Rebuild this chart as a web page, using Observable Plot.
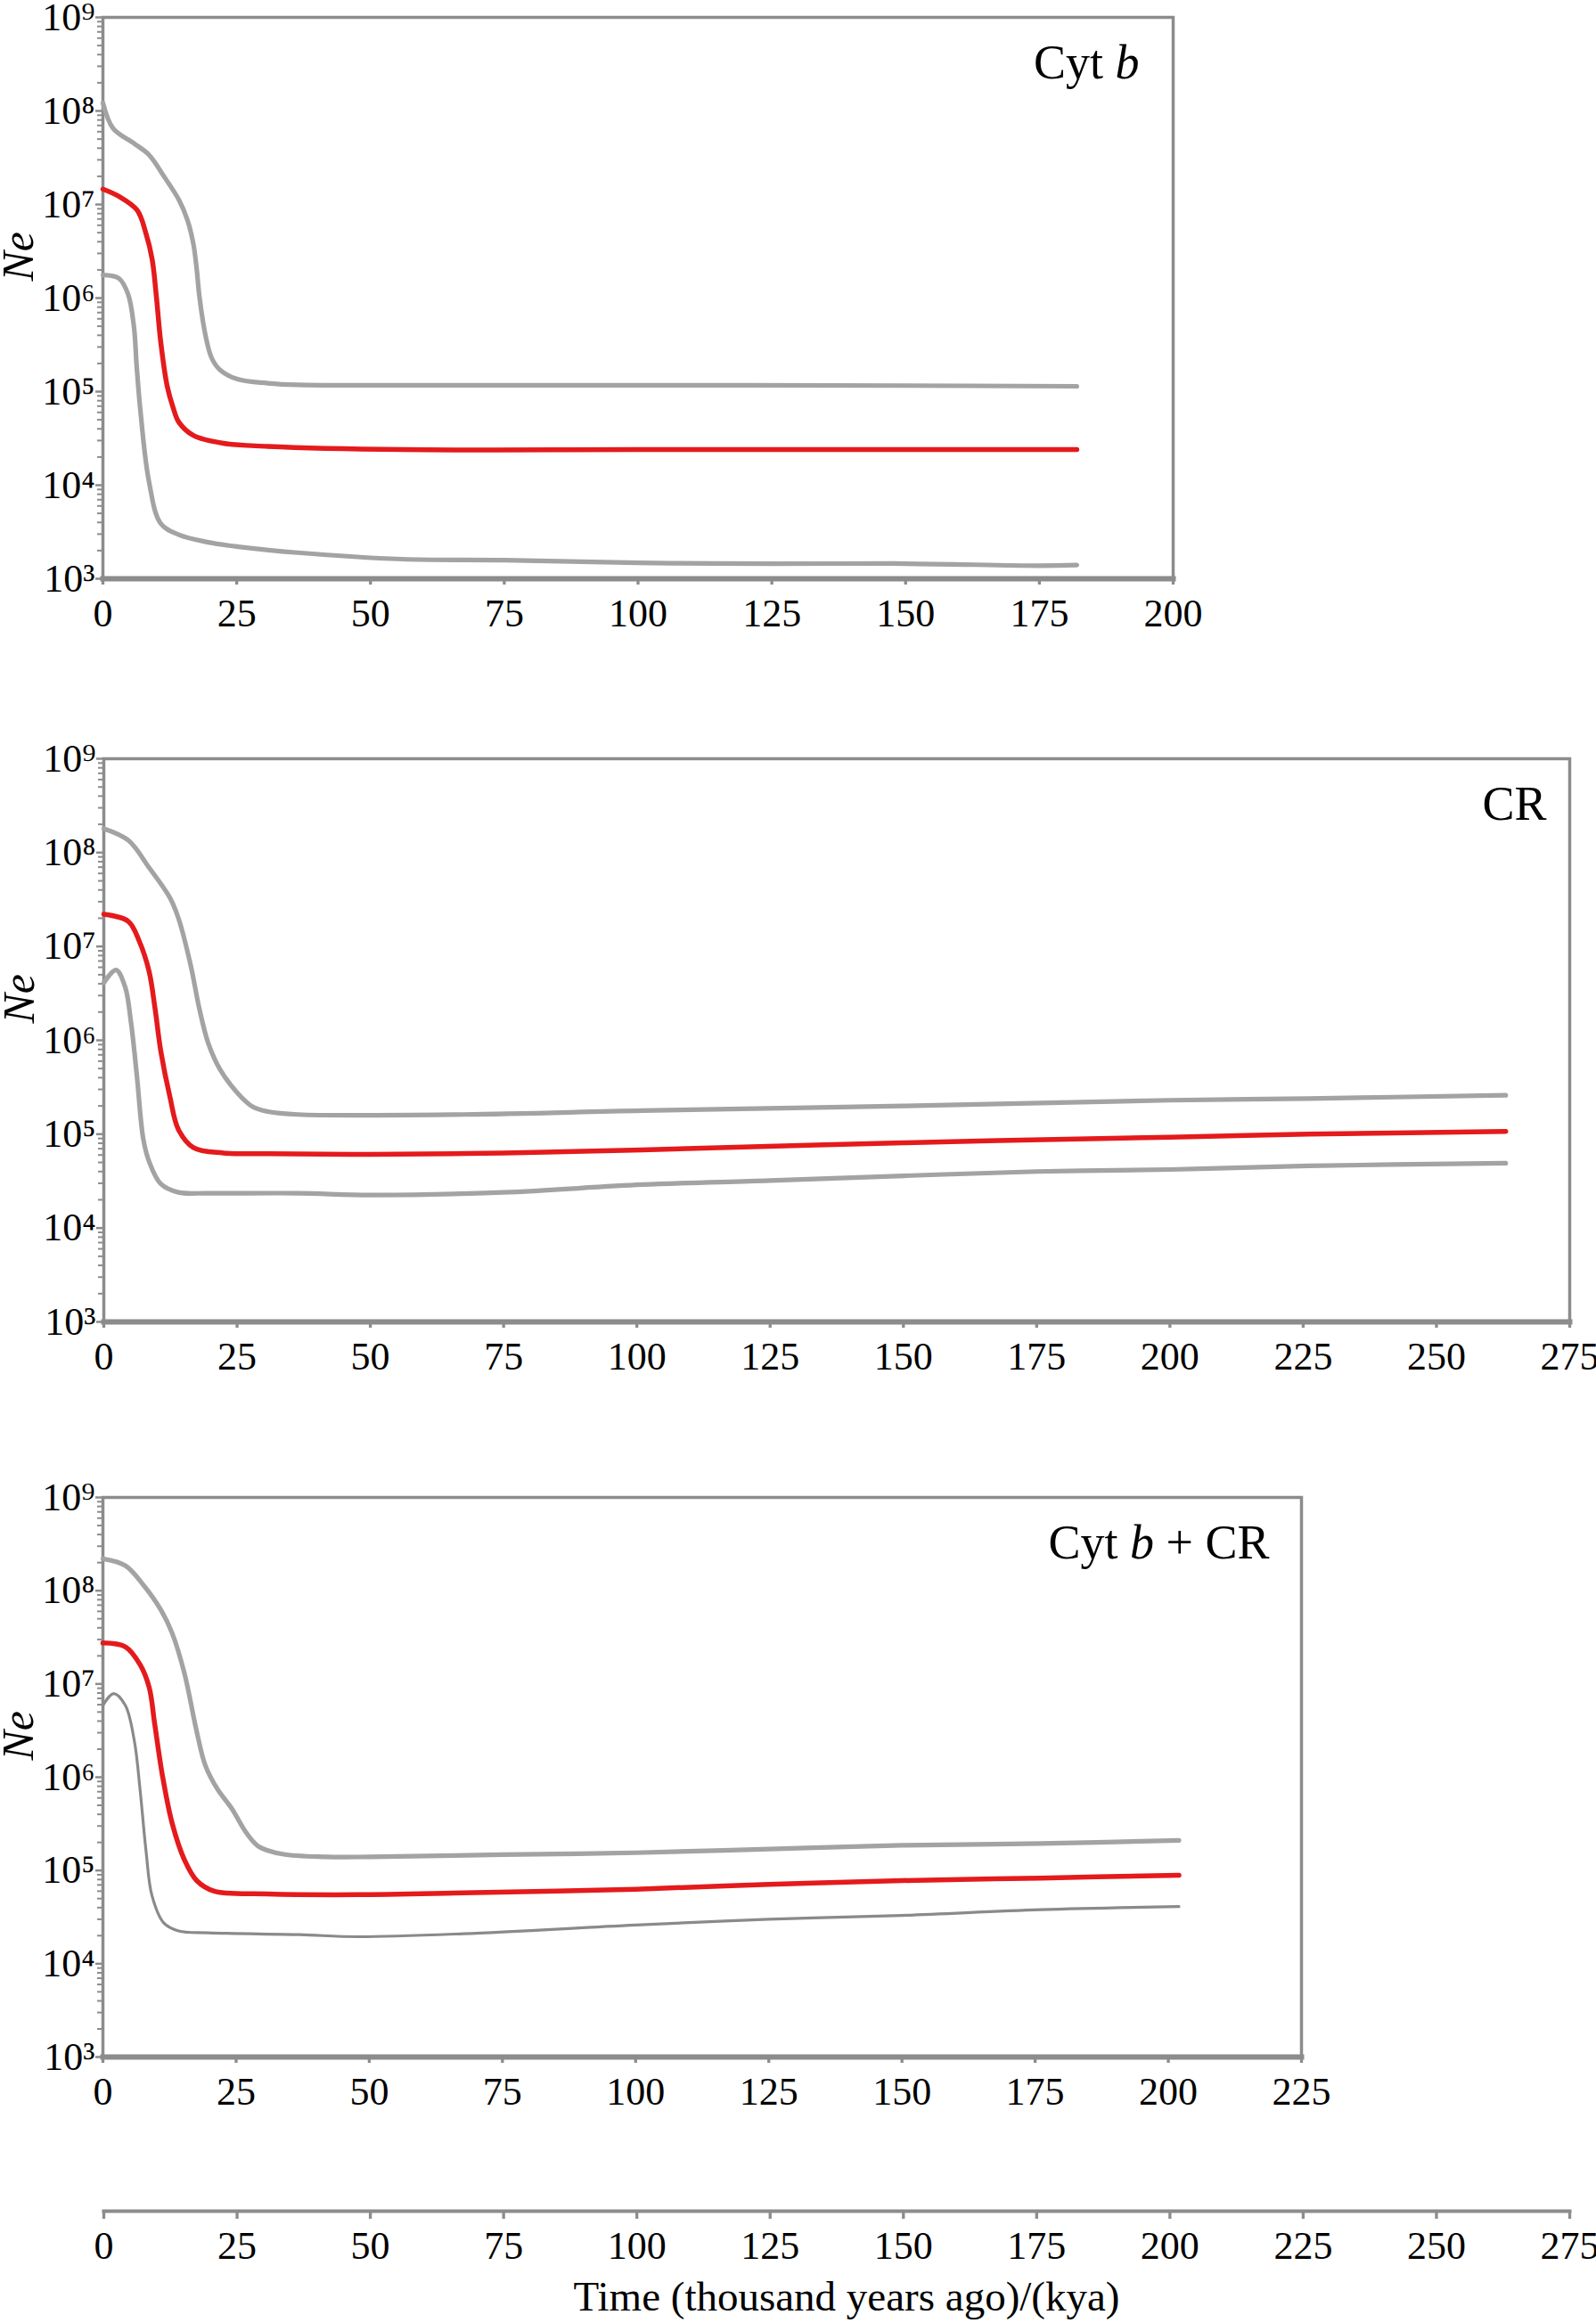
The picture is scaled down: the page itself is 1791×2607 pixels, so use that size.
<!DOCTYPE html>
<html>
<head>
<meta charset="utf-8">
<script src="https://cdn.jsdelivr.net/npm/d3@7"></script>
<script src="https://cdn.jsdelivr.net/npm/@observablehq/plot@0.6"></script>
<style>
  html, body { margin: 0; padding: 0; background: #fff; }
  #fig { position: relative; width: 1791px; height: 2607px; background: #fff; overflow: hidden; }
  #fig svg { position: absolute; left: 0; }
  #fig svg text { font-family: 'Liberation Serif', 'Times New Roman', serif; }
  #xtitle { position: absolute; top: 2554px; left: 950px; transform: translateX(-50%); white-space: nowrap;
            font-family: 'Liberation Serif', 'Times New Roman', serif; font-size: 47px; line-height: 47px; color: #000; }
</style>
</head>
<body>
<div id="fig"><div id="xtitle"></div></div>
<script>
// ---------- data (time in kya, Ne) ----------
// Panel 1: Cyt b
const cytbUpperT  = [0, 1.9, 5.8, 8.6, 11.4, 14.2, 15.8, 16.9, 17.5, 18.05, 19.2, 20.3, 21.9, 25.3, 30.8, 36.4, 56, 100, 150, 182];
const cytbUpperNe = [1.22e8, 6.5e7, 4.5e7, 3.4e7, 2.0e7, 1.12e7, 6.8e6, 3.8e6, 2.1e6, 1.02e6, 3.9e5, 2.3e5, 1.7e5, 1.35e5, 1.23e5, 1.18e5, 1.17e5, 1.17e5, 1.16e5, 1.14e5];
const cytbMedT    = [0, 3, 6.4, 8, 9.2, 10, 10.8, 12, 13.1, 14.2, 16.9, 22.5, 30.8, 56, 100, 150, 182];
const cytbMedNe   = [1.46e7, 1.22e7, 8.7e6, 5.0e6, 2.6e6, 1.02e6, 3.4e5, 1.15e5, 6.8e4, 4.7e4, 3.4e4, 2.8e4, 2.6e4, 2.4e4, 2.4e4, 2.4e4, 2.4e4];
const cytbLowerT  = [0, 3, 4.7, 5.8, 6.3, 7, 8.6, 10.8, 14.2, 19.7, 25.3, 36.4, 56, 75, 100, 125, 150, 175, 182];
const cytbLowerNe = [1.76e6, 1.62e6, 1.1e6, 4.9e5, 1.9e5, 6.3e4, 1.1e4, 3.9e3, 2.95e3, 2.45e3, 2.2e3, 1.9e3, 1.62e3, 1.58e3, 1.48e3, 1.45e3, 1.45e3, 1.38e3, 1.4e3];

// Panel 2: CR
const crUpperT  = [0, 4.6, 8.5, 12.4, 14, 16.3, 17.9, 19.6, 21.8, 25.2, 28, 30.8, 36.4, 67.6, 101, 150, 200, 226, 263];
const crUpperNe = [1.8e8, 1.35e8, 6.9e7, 3.3e7, 2.0e7, 6.3e6, 2.2e6, 9.3e5, 4.9e5, 2.7e5, 1.95e5, 1.74e5, 1.62e5, 1.62e5, 1.78e5, 2.0e5, 2.3e5, 2.4e5, 2.6e5];
const crMedT    = [0, 4.6, 6.7, 8.5, 9.6, 10.7, 12.4, 14, 16.8, 22.4, 30.8, 50, 75, 101, 150, 200, 226, 263];
const crMedNe   = [2.2e7, 1.85e7, 1.12e7, 5.4e6, 2.2e6, 7.6e5, 2.5e5, 1.12e5, 7.2e4, 6.3e4, 6.2e4, 6.1e4, 6.3e4, 6.8e4, 8.1e4, 9.3e4, 1.0e5, 1.07e5];
const crLowerT  = [0, 2.3, 4, 5.1, 6.2, 7.4, 8.5, 10.7, 14, 19.6, 36.4, 50, 75, 101, 125, 150, 175, 200, 226, 263];
const crLowerNe = [4.1e6, 5.6e6, 3.7e6, 1.55e6, 4.2e5, 8.9e4, 5.1e4, 2.95e4, 2.4e4, 2.35e4, 2.35e4, 2.25e4, 2.4e4, 2.9e4, 3.2e4, 3.6e4, 4.0e4, 4.2e4, 4.6e4, 4.9e4];

// Panel 3: Cyt b + CR
const bothUpperT  = [0, 4.2, 7.5, 10.9, 13, 15.3, 17.6, 19.2, 21.4, 24.2, 27, 29.3, 33.7, 42, 50, 75, 100, 125, 150, 176, 202];
const bothUpperNe = [2.2e8, 1.86e8, 1.17e8, 6.2e7, 3.5e7, 1.3e7, 3.1e6, 1.35e6, 7.6e5, 4.6e5, 2.5e5, 1.8e5, 1.5e5, 1.4e5, 1.4e5, 1.48e5, 1.55e5, 1.7e5, 1.86e5, 1.95e5, 2.1e5];
const bothMedT    = [0, 4.2, 7, 8.7, 9.7, 11.2, 13, 15.3, 17.6, 20.9, 30.9, 47.7, 67.7, 100, 125, 150, 176, 202];
const bothMedNe   = [2.75e7, 2.5e7, 1.6e7, 9.1e6, 3.8e6, 1.02e6, 3.2e5, 1.3e5, 7.8e4, 6.0e4, 5.6e4, 5.5e4, 5.75e4, 6.3e4, 7.1e4, 7.8e4, 8.3e4, 8.9e4];
const bothLowerT  = [0, 2, 4.2, 5.9, 7, 8.1, 9.2, 11.4, 14.2, 19.8, 36.9, 47.7, 67.7, 100, 125, 150, 176, 202];
const bothLowerNe = [5.9e6, 7.9e6, 5.9e6, 2.45e6, 7.1e5, 1.6e5, 5.4e4, 2.75e4, 2.25e4, 2.15e4, 2.05e4, 1.95e4, 2.1e4, 2.6e4, 3.0e4, 3.3e4, 3.8e4, 4.1e4];

// ticks and labels
const yMajorTicks = [1e3, 1e4, 1e5, 1e6, 1e7, 1e8, 1e9];
const yMinorMultipliers = [2, 3, 4, 5, 6, 7, 8, 9];
const xTicks = [0, 25, 50, 75, 100, 125, 150, 175, 200, 225, 250, 275];
const panelTitles = ["Cyt b", "CR", "Cyt b + CR"];
const xTitle = "Time (thousand years ago)/(kya)";
const yTitle = "Ne";

// ---------- helpers ----------
const FONT = "'Liberation Serif', 'Times New Roman', serif";
const AXIS = "#8c8c8c";
const RED = "#e41a1c";
const GRAY = "#a3a3a3";
const DARKGRAY = "#8a8a8a";
const SUP = {"0":"⁰","1":"¹","2":"²","3":"³","4":"⁴","5":"⁵","6":"⁶","7":"⁷","8":"⁸","9":"⁹"};
const fmtPow = d => "10" + SUP[String(Math.round(Math.log10(d)))];
const yMinorTicks = yMajorTicks.slice(0, -1).flatMap(p => yMinorMultipliers.map(m => m * p));
const rows = (T, N) => T.map((t, i) => ({t, ne: N[i]}));

function panel(cfg) {
  const xt = xTicks.filter(v => v <= cfg.xMax);
  const plot = Plot.plot({
    width: cfg.width, height: cfg.height,
    marginTop: cfg.mt, marginBottom: cfg.mb, marginLeft: cfg.ml, marginRight: cfg.mr,
    style: {fontFamily: FONT, fontSize: "44px", color: "#000", background: "transparent", overflow: "visible"},
    x: {domain: [0, cfg.xMax]},
    y: {type: "log", domain: [1e3, 1e9]},
    marks: [
      Plot.axisY(yMinorTicks, {tickSize: 6, stroke: AXIS, strokeWidth: 2, fill: "none", tickFormat: () => "", label: null}),
      Plot.axisY(yMajorTicks, {tickSize: 8, tickPadding: 1, stroke: AXIS, strokeWidth: 2.5, tickFormat: fmtPow, fontSize: 44, fontFamily: FONT, label: null}),
      Plot.axisX(xt, {tickSize: 7, tickPadding: 15, stroke: AXIS, strokeWidth: 3.3, fontSize: 44, fontFamily: FONT, label: null}),
      Plot.frame({stroke: AXIS, strokeWidth: 3.5}),
      Plot.frame({anchor: "bottom", stroke: AXIS, strokeWidth: 6}),
      ...cfg.series.map(s => Plot.line(rows(s.t, s.ne), {x: "t", y: "ne", stroke: s.color, strokeWidth: s.w, curve: "catmull-rom", strokeLinecap: "round", strokeLinejoin: "round"})),
      Plot.text([cfg.title], {frameAnchor: "top-right", textAnchor: "end", lineAnchor: "top", dx: cfg.tdx, dy: 30, fontSize: 54, fontFamily: FONT, fill: "#000"}),
      Plot.text([yTitle], {frameAnchor: "left", rotate: -90, dx: -95, dy: -19, fontSize: 50, fontFamily: FONT, fontStyle: "italic", fill: "#000"})
    ]
  });
  plot.style.top = cfg.top + "px";
  // italic "b" in the panel titles
  plot.querySelectorAll("text").forEach(t => {
    const s = t.textContent;
    if (s.startsWith("Cyt b")) {
      const rest = s.slice(5);
      while (t.firstChild) t.removeChild(t.firstChild);
      t.setAttribute("style", (t.getAttribute("style") || "") + ";white-space:pre");
      const NS = "http://www.w3.org/2000/svg";
      const a = document.createElementNS(NS, "tspan"); a.textContent = "Cyt "; t.appendChild(a);
      const b = document.createElementNS(NS, "tspan"); b.textContent = "b"; b.setAttribute("font-style", "italic"); t.appendChild(b);
      if (rest) { const c = document.createElementNS(NS, "tspan"); c.textContent = rest; t.appendChild(c); }
    }
  });
  return plot;
}

const fig = document.getElementById("fig");

fig.appendChild(panel({
  top: 0, width: 1400, height: 720, mt: 19, mb: 71, ml: 115, mr: 84, xMax: 200,
  title: panelTitles[0], tdx: -38,
  series: [
    {t: cytbUpperT, ne: cytbUpperNe, color: GRAY, w: 5.2},
    {t: cytbLowerT, ne: cytbLowerNe, color: GRAY, w: 5.2},
    {t: cytbMedT, ne: cytbMedNe, color: RED, w: 5.5}
  ]
}));

fig.appendChild(panel({
  top: 800, width: 1791, height: 760, mt: 51, mb: 77, ml: 116, mr: 30, xMax: 275,
  title: panelTitles[1], tdx: -26,
  series: [
    {t: crUpperT, ne: crUpperNe, color: GRAY, w: 5.2},
    {t: crLowerT, ne: crLowerNe, color: GRAY, w: 5.2},
    {t: crMedT, ne: crMedNe, color: RED, w: 5.5}
  ]
}));

fig.appendChild(panel({
  top: 1640, width: 1500, height: 740, mt: 40, mb: 72, ml: 115, mr: 40, xMax: 225,
  title: panelTitles[2], tdx: -36,
  series: [
    {t: bothUpperT, ne: bothUpperNe, color: GRAY, w: 5.2},
    {t: bothLowerT, ne: bothLowerNe, color: DARKGRAY, w: 3.2},
    {t: bothMedT, ne: bothMedNe, color: RED, w: 5.5}
  ]
}));

// shared time axis at the bottom
const bottomAxis = Plot.plot({
  width: 1791, height: 110, marginTop: 40, marginBottom: 69, marginLeft: 116, marginRight: 30,
  style: {fontFamily: FONT, fontSize: "44px", color: "#000", background: "transparent", overflow: "visible"},
  x: {domain: [0, 275]},
  marks: [
    Plot.axisX(xTicks, {tickSize: 9, tickPadding: 13, stroke: AXIS, strokeWidth: 3.3, fontSize: 44, fontFamily: FONT, label: null}),
    Plot.frame({anchor: "bottom", stroke: AXIS, strokeWidth: 4})
  ]
});
bottomAxis.style.top = "2440px";
fig.appendChild(bottomAxis);
document.getElementById("xtitle").textContent = xTitle;
</script>
</body>
</html>
